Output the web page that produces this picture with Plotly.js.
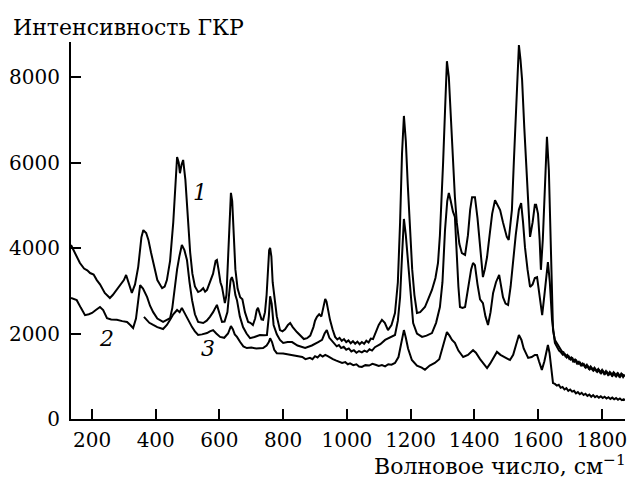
<!DOCTYPE html>
<html><head><meta charset="utf-8">
<script src="https://cdn.plot.ly/plotly-3.0.1.min.js"></script>
<style>html,body{margin:0;padding:0;background:#fff}</style>
</head><body><div id="chart" style="width:629px;height:479px"></div>
<script>
// Curve 1 (top)
const wn1 = [134,145,162,175,185,194,205,215,225,240,256,265,278,290,300,307,315,325,335,345,355,361,370,377,385,392,405,420,428,435,445,455,462,467,472,476,481,486,493,500,508,515,523,533,541,549,555,561,570,580,588,592,597,603,608,617,622,628,632,636,640,645,650,657,665,672,680,690,697,705,712,717,721,727,732,737,743,748,752,756,759,763,767,774,780,790,798,806,815,822,830,843,855,865,875,885,895,900,906,913,920,926,932,936,941,947,955,963,
970,977,984,991,998,1005,1012,1019,1026,1033,1040,1047,1054,1061,1068,1075,1082,1090,
1100,1110,1119,1129,1140,1151,1160,1167,1173,1179,1185,1191,1198,1205,1212,1220,1230,1245,1255,1267,1278,1286,1292,1297,1302,1308,1314,1320,1326,1333,1339,1345,1353,1361,1371,1380,1387,1393,1402,1410,1418,1427,1433,1440,1448,1456,1465,1473,1481,1490,1502,1508,1513,1518,1524,1529,1534,1540,1545,1550,1557,1565,1570,1575,1583,1590,1594,1600,1605,1609,1615,1621,1628,1634,1640,1647,1653,
1659,1665,1670,1675,1680,1686,1692,1698,1704,1710,1716,1722,1728,1734,1740,1747,1753,1759,1765,1771,1777,1783,1789,1795,1801,1807,1813,1819,1825,1831,1837,1843,1849,1855,1861,1867,1872];
const int1 = [4070,3900,3650,3520,3480,3415,3380,3250,3150,2950,2830,2900,3020,3150,3250,3370,3200,2950,3150,3560,4250,4420,4350,4190,3900,3650,3250,3060,3100,3250,3700,4600,5600,6130,6000,5750,5950,6060,5600,4800,3900,3400,3100,2970,3000,3060,2980,3020,3200,3400,3700,3720,3500,3200,3090,2710,2900,3800,4700,5290,5100,4300,3500,3050,2850,2800,2500,2270,2250,2200,2350,2550,2600,2450,2330,2320,2500,2900,3500,3950,4000,3800,3200,2780,2400,2080,2050,2100,2200,2245,2150,2035,1950,1870,1890,1950,2150,2300,2390,2450,2400,2600,2810,2750,2550,2320,2100,1920,
1860,1900,1830,1870,1800,1840,1770,1820,1760,1810,1750,1800,1760,1830,1790,1880,1870,2000,
2200,2320,2250,2080,2200,2480,3200,4600,6200,7090,6500,5500,4420,3500,2900,2480,2500,2620,2800,3020,3300,3650,4300,5000,5990,7200,8370,8000,7000,5990,5200,4600,4100,3880,3840,4300,4900,5190,5190,4700,4120,3320,3500,3790,4300,4800,5120,5000,4890,4600,4260,4190,4500,4890,6000,7000,7930,8750,8400,7930,6800,5590,4800,4260,4600,5010,5010,4800,4200,3490,4200,5500,6600,5820,3800,2080,1850,
1780,1700,1640,1580,1560,1470,1500,1410,1440,1350,1390,1300,1340,1260,1300,1220,1270,1180,1230,1150,1200,1120,1170,1090,1150,1060,1120,1040,1100,1020,1090,1010,1070,990,1060,980,1040];
// Curve 2 (middle)
const wn2 = [134,143,152,165,178,190,200,212,225,235,247,260,278,295,310,320,329,338,345,351,360,373,382,392,405,423,435,445,452,460,467,474,482,490,498,506,514,523,533,549,560,570,580,592,600,608,616,625,630,635,639,644,650,655,664,674,685,696,710,727,740,749,755,759,764,770,780,790,800,814,828,845,869,890,910,922,930,937,945,
960,968,975,982,990,998,1006,1014,1022,1030,1038,1047,1055,1063,1071,1079,1088,
1105,1120,1140,1151,1160,1167,1173,1179,1185,1192,1200,1208,1220,1236,1250,1267,1280,1292,1300,1308,1315,1320,1326,1333,1339,1345,1350,1355,1363,1371,1380,1390,1396,1402,1410,1418,1427,1435,1443,1451,1459,1468,1478,1485,1490,1498,1506,1514,1521,1530,1540,1547,1553,1559,1567,1575,1583,1590,1597,1605,1613,1620,1626,1631,1637,1644,1653,
1660,1666,1672,1678,1684,1690,1696,1702,1708,1714,1720,1726,1732,1738,1744,1750,1756,1762,1768,1774,1780,1786,1792,1798,1804,1810,1816,1822,1828,1834,1840,1846,1852,1858,1864,1872];
const int2 = [2830,2800,2780,2600,2430,2450,2480,2550,2620,2550,2360,2330,2320,2290,2270,2200,2130,2350,2800,3130,3050,2850,2650,2500,2350,2270,2320,2360,2600,3090,3500,3800,4070,3950,3720,3200,2780,2450,2270,2245,2300,2390,2500,2670,2450,2270,2280,2500,2900,3250,3320,3200,2900,2780,2400,2150,2000,1890,1920,1965,1960,1965,2400,2870,2700,2200,1980,1850,1780,1800,1800,1720,1660,1720,1800,1850,2000,2080,1900,
1780,1700,1730,1660,1690,1620,1650,1580,1610,1550,1590,1560,1600,1570,1630,1600,1680,
1750,1850,1920,1965,2300,2850,3800,4680,4300,3650,2900,2245,2000,1920,1950,2010,2250,2620,3200,4420,5100,5290,5100,4850,4730,3800,3100,2620,2600,2620,3000,3500,3650,3600,3150,2800,2710,2400,2200,2500,2950,3200,3370,3100,2850,2700,2670,3100,3650,4300,4900,5050,4600,4020,3500,3090,3150,3300,3320,2900,2430,2900,3400,3670,3200,2320,1780,
1680,1600,1560,1500,1520,1440,1470,1390,1420,1340,1370,1290,1320,1250,1280,1200,1240,1160,1200,1130,1170,1100,1140,1070,1120,1050,1100,1030,1080,1010,1070,1000,1060,990,1050,1000];
// Curve 3 (bottom)
const wn3 = [363,370,380,392,405,423,435,445,455,467,475,482,490,500,514,523,533,545,561,570,580,590,602,615,627,636,642,648,655,665,675,686,700,715,737,748,755,759,765,772,780,800,821,840,
860,870,884,892,900,908,916,924,932,940,948,956,965,975,985,995,1003,1010,1020,1030,1038,1047,1058,1070,1080,1090,1100,1110,1120,1130,1140,1151,
1162,1170,1175,1179,1185,1192,1204,1220,1235,1245,1260,1276,1290,1300,1308,1314,1322,1330,1339,1350,1365,1380,1396,1405,1418,1430,1440,1450,1462,1471,1482,1495,1512,1522,1530,1540,1548,1555,1569,1580,1590,1597,1603,1612,1620,1627,1631,1636,1642,1647,
1653,1659,1665,1671,1677,1683,1689,1695,1701,1707,1713,1719,1725,1731,1737,1743,1749,1755,1761,1767,1773,1779,1785,1791,1797,1803,1809,1815,1821,1827,1833,1839,1845,1851,1857,1863,1869,1872];
const int3 = [2390,2330,2250,2200,2150,2105,2200,2320,2450,2550,2500,2600,2480,2350,2150,2050,1965,1980,2010,2050,2080,2000,1920,1900,2000,2175,2100,1980,1920,1800,1700,1660,1670,1650,1660,1720,1800,1890,1800,1620,1540,1530,1500,1480,
1450,1400,1430,1400,1470,1440,1500,1460,1500,1470,1430,1400,1370,1340,1310,1330,1280,1300,1260,1280,1230,1220,1260,1250,1290,1270,1240,1260,1230,1280,1270,1310,
1450,1750,1950,2080,1900,1650,1380,1250,1200,1150,1250,1310,1400,1650,1850,2035,1950,1850,1780,1600,1450,1500,1610,1550,1400,1280,1190,1300,1450,1570,1500,1450,1380,1500,1700,1965,1850,1650,1430,1450,1500,1500,1350,1150,1350,1600,1730,1550,1100,840,
820,780,800,730,750,690,720,660,690,640,660,600,630,580,610,560,590,540,570,520,560,510,540,500,530,490,520,480,510,470,500,460,490,450,480,440,460,430];

const xTicks = [200,400,600,800,1000,1200,1400,1600,1800];
const yTicks = [0,2000,4000,6000,8000];
const curveLabels = ['1','2','3'];

const line = {color:'#000', width:2};
const traces = [
  {x:wn1, y:int1, type:'scatter', mode:'lines', line:line, hoverinfo:'skip'},
  {x:wn2, y:int2, type:'scatter', mode:'lines', line:line, hoverinfo:'skip'},
  {x:wn3, y:int3, type:'scatter', mode:'lines', line:line, hoverinfo:'skip'}
];
const fam = 'DejaVu Serif';
const tickFnt = {family:fam, size:20, color:'#000'};
const titleFnt = {family:fam, size:22, color:'#000'};
const layout = {
  width:629, height:479,
  margin:{l:71, r:4, t:42, b:60},
  paper_bgcolor:'#fff', plot_bgcolor:'#fff',
  showlegend:false,
  font:titleFnt,
  xaxis:{range:[134,1873], tickvals:xTicks, ticktext:xTicks.map(String),
    ticks:'inside', ticklen:10, tickwidth:2, tickcolor:'#000',
    showline:true, linewidth:2, linecolor:'#000', showgrid:false, zeroline:false,
    tickfont:tickFnt, ticklabelstandoff:2},
  yaxis:{range:[0,8820], tickvals:yTicks, ticktext:yTicks.map(String),
    ticks:'inside', ticklen:10, tickwidth:2, tickcolor:'#000',
    showline:true, linewidth:2, linecolor:'#000', showgrid:false, zeroline:false,
    tickfont:tickFnt, ticklabelstandoff:5},
  annotations:[
    {text:'Интенсивность ГКР', xref:'paper', yref:'paper', x:-0.108, y:1.0, xanchor:'left', yanchor:'bottom', yshift:0, showarrow:false, font:titleFnt},
    {text:'Волновое число, см<sup>−1</sup>', xref:'paper', yref:'paper', x:1, y:0, xanchor:'right', yanchor:'top', yshift:-30, xshift:3, showarrow:false, font:titleFnt},
    {text:'<i>'+curveLabels[0]+'</i>', xref:'x', yref:'y', x:539, y:5310, showarrow:false, font:titleFnt},
    {text:'<i>'+curveLabels[1]+'</i>', xref:'x', yref:'y', x:244, y:1890, showarrow:false, font:titleFnt},
    {text:'<i>'+curveLabels[2]+'</i>', xref:'x', yref:'y', x:564, y:1660, showarrow:false, font:titleFnt}
  ]
};
Plotly.newPlot('chart', traces, layout, {staticPlot:true, displayModeBar:false});
</script></body></html>
